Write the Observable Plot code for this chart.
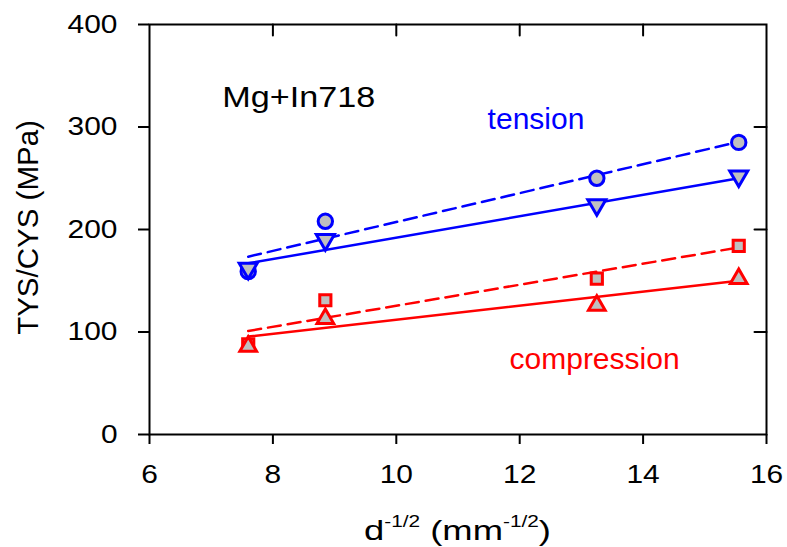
<!DOCTYPE html>
<html><head><meta charset="utf-8">
<script src="https://cdn.jsdelivr.net/npm/d3@7"></script>
<script src="https://cdn.jsdelivr.net/npm/@observablehq/plot@0.6"></script>
<style>body{margin:0;background:#fff} svg{display:block}</style>
</head><body><div id="chart"></div>
<script>
// grain-size parameter d^-1/2 (mm^-1/2)
const grainX = [7.6, 8.85, 13.25, 15.55];
// tension: circles (dashed fit) and down triangles (solid fit)
const tensionCircle = [159, 208, 250, 285];
const tensionTriangle = [162, 190, 224, 252];
// compression: squares (dashed fit) and up triangles (solid fit)
const compressionSquare = [88, 131, 152, 184];
const compressionTriangle = [86, 113, 126, 152];
// linear fits (end points)
const fitX = [7.6, 15.55];
const tensionSolidFit = [167, 250];
const tensionDashedFit = [173.5, 285.5];
const compressionSolidFit = [95.5, 150];
const compressionDashedFit = [101, 182.5];
// ticks
const xTicks = [6, 8, 10, 12, 14, 16];
const yTicks = [0, 100, 200, 300, 400];
// annotations
const annotationText = ["Mg+In718", "tension", "compression"];
const annotationX = [7.18, 11.48, 11.835];
const annotationY = [328.7, 307, 73.5];
const annotationColor = ["black", "#0000ff", "#ff0000"];

const BLUE = "#0000ff", RED = "#ff0000", GRAY = "#c0c0c0";
const pts = ys => grainX.map((x, i) => ({x, y: ys[i]}));
const fit = ys => fitX.map((x, i) => ({x, y: ys[i]}));
const ann = annotationText.map((t, i) => ({t, x: annotationX[i], y: annotationY[i], c: annotationColor[i]}));
const tickShape = {draw(context, l) { context.moveTo(0, 0); context.lineTo(0, -l); }};
const xMax = d3.max(xTicks), yMax = d3.max(yTicks);

const plot = Plot.plot({
  width: 787, height: 547,
  marginLeft: 149, marginRight: 21, marginTop: 24, marginBottom: 113,
  style: {fontFamily: "'Liberation Sans', Arial, sans-serif", background: "white", color: "black"},
  x: {domain: [d3.min(xTicks), xMax]},
  y: {domain: [d3.min(yTicks), yMax]},
  marks: [
    Plot.line(fit(tensionDashedFit), {x: "x", y: "y", stroke: BLUE, strokeWidth: 2.5, strokeDasharray: "13,7"}),
    Plot.line(fit(tensionSolidFit), {x: "x", y: "y", stroke: BLUE, strokeWidth: 2.5}),
    Plot.line(fit(compressionDashedFit), {x: "x", y: "y", stroke: RED, strokeWidth: 2.5, strokeDasharray: "13,7"}),
    Plot.line(fit(compressionSolidFit), {x: "x", y: "y", stroke: RED, strokeWidth: 2.5}),
    Plot.dot(pts(tensionCircle), {x: "x", y: "y", symbol: "circle", r: 7.2, fill: GRAY, stroke: BLUE, strokeWidth: 3}),
    Plot.dot(pts(compressionSquare), {x: "x", y: "y", symbol: "square", r: 6.3, fill: GRAY, stroke: RED, strokeWidth: 3}),
    Plot.dot(pts(tensionTriangle), {x: "x", y: "y", symbol: "triangle", rotate: 180, r: 6.7, fill: GRAY, stroke: BLUE, strokeWidth: 3}),
    Plot.dot(pts(compressionTriangle), {x: "x", y: "y", symbol: "triangle", r: 6.2, fill: GRAY, stroke: RED, strokeWidth: 3}),
    Plot.text(ann, {x: "x", y: "y", text: "t", fill: "c", textAnchor: "start", lineAnchor: "middle", fontSize: 30}),
    Plot.frame({stroke: "black", strokeWidth: 2}),
    // inward ticks on the top and right edges of the frame
    Plot.vector(xTicks.slice(1, -1), {x: d => d, y: yMax, length: 11, rotate: 180, anchor: "start", shape: tickShape, stroke: "black", strokeWidth: 2}),
    Plot.vector(yTicks.slice(1, -1), {x: xMax, y: d => d, length: 12, rotate: 270, anchor: "start", shape: tickShape, stroke: "black", strokeWidth: 2}),
    Plot.axisX({anchor: "bottom", ticks: xTicks, tickSize: 10, tickPadding: 20, strokeWidth: 2, fontSize: 26, label: null}),
    Plot.axisY({anchor: "left", ticks: yTicks, tickSize: 11, tickPadding: 21, strokeWidth: 2, fontSize: 26, label: null})
  ]
});
document.getElementById("chart").appendChild(plot);

const svg = d3.select(plot);
function stretch(node, factor) {
  const L = node.getComputedTextLength();
  if (L > 0) {
    node.setAttribute("textLength", L * factor);
    node.setAttribute("lengthAdjust", "spacingAndGlyphs");
  }
}
svg.selectAll('g[aria-label="x-axis tick label"] text, g[aria-label="y-axis tick label"] text').each(function() { stretch(this, 1.15); });
svg.selectAll('g[aria-label="text"] text').each(function() { if (this.textContent === "Mg+In718") stretch(this, 1.14); });

// x-axis title with superscripts
const xs = plot.scale("x");
const xt = svg.append("text")
  .attr("x", (xs.range[0] + xs.range[1]) / 2).attr("y", 540)
  .attr("text-anchor", "middle")
  .attr("font-family", "'Liberation Sans', Arial, sans-serif")
  .attr("font-size", 28).attr("fill", "black");
xt.append("tspan").text("d");
xt.append("tspan").attr("font-size", 16).attr("dy", -13).text("-1/2");
xt.append("tspan").attr("dy", 13).text(" (mm");
xt.append("tspan").attr("font-size", 16).attr("dy", -13).text("-1/2");
xt.append("tspan").attr("dy", 13).text(")");
xt.attr("textLength", 187).attr("lengthAdjust", "spacingAndGlyphs");

// y-axis title
svg.append("text")
  .attr("transform", "translate(38,227.5) rotate(-90)")
  .attr("text-anchor", "middle")
  .attr("font-family", "'Liberation Sans', Arial, sans-serif")
  .attr("font-size", 29.5).attr("fill", "black")
  .text("TYS/CYS (MPa)");
</script>
</body></html>
